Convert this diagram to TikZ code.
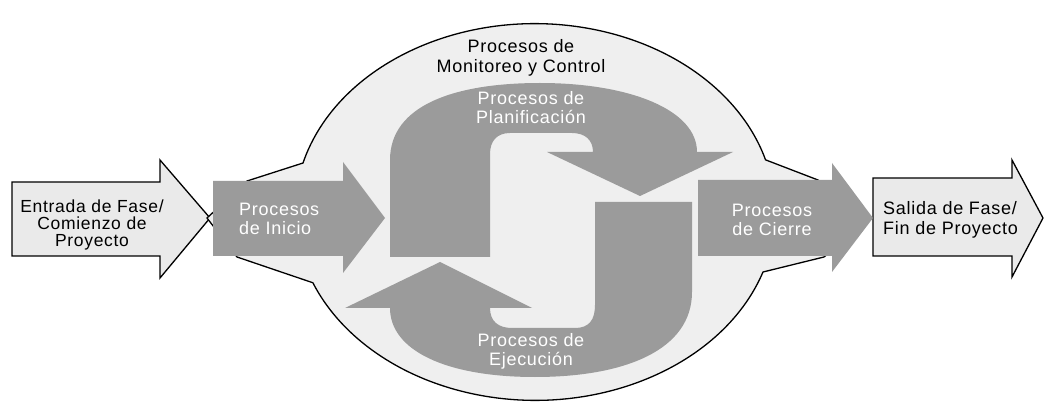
\documentclass[tikz,border=0pt]{standalone}
\usepackage{fontspec}
\setmainfont{Liberation Sans}[LetterSpace=4]
\usetikzlibrary{positioning}

\definecolor{procgray}{HTML}{9B9B9B}
\definecolor{blobgray}{HTML}{EFEFEF}
\definecolor{phasegray}{HTML}{EAEAEA}

\begin{document}
\begin{tikzpicture}
		[x=1pt,y=-1pt,
		phase arrow/.style={draw=black,line width=1.3pt,fill=phasegray,line join=miter},
		proc arrow/.style={fill=procgray,draw=none},
		blob/.style={draw=black,line width=1.3pt,fill=blobgray,line join=miter},
		dark label/.style={font=\fontsize{18}{20}\selectfont,text=black,align=center,inner sep=0pt},
		light label/.style={font=\fontsize{18}{19}\selectfont,text=white,align=center,inner sep=0pt}]
		\useasboundingbox (0,0) rectangle (1045,414);
		
		% entrada y salida de fase
		\draw[phase arrow] (12,182) -- (160,182) -- (160,160) -- (210,218) -- (160,278) -- (160,256) -- (12,256) -- cycle;
		\draw[phase arrow] (873,178) -- (1012,178) -- (1012,160) -- (1043,218) -- (1012,277) -- (1012,256) -- (873,256) -- cycle;
		
		% monitoreo y control
		\draw[blob] (207,218) -- (247,181) -- (303,163)
		arc[start angle=195, end angle=344, x radius=240, y radius=188]
		-- (818,180) -- (872,218) -- (824,257) -- (763,272)
		arc[start angle=18.5, end angle=158, x radius=240, y radius=188]
		-- (237,257) -- cycle;
		
		% inicio y cierre
		\fill[proc arrow] (213,181) -- (343,181) -- (343,162) -- (385,218) -- (343,273) -- (343,256) -- (213,256) -- cycle;
		\fill[proc arrow] (698,180) -- (832,180) -- (832,163) -- (873,218) -- (832,272) -- (832,256) -- (698,256) -- cycle;
		
		% planificacion
		\fill[proc arrow] (390,257) -- (390,160) .. controls (390,105) and (455,83) .. (540,83)
		.. controls (630,83) and (697,110) .. (697,152) -- (733,152) -- (640,196) -- (547,152) -- (593,152)
		.. controls (593,140) and (585,133) .. (572,133) -- (510,133)
		.. controls (497,133) and (490,141) .. (490,154) -- (490,257) -- cycle;
		
		% ejecucion
		\fill[proc arrow] (692,202) -- (692,292) .. controls (692,350) and (625,377) .. (535,377)
		.. controls (445,377) and (390,350) .. (390,308) -- (345,308) -- (440,262) -- (532,308) -- (490,308)
		.. controls (490,321) and (498,328) .. (512,328) -- (575,328)
		.. controls (589,328) and (595,320) .. (595,305) -- (595,202) -- cycle;
		
		\node[dark label,font=\fontsize{17.5}{17}\selectfont] (entrada) at (92,225) {Entrada de Fase/\\Comienzo de\\Proyecto};
		\node[dark label,align=left,anchor=west] (salida) at (883,220) {Salida de Fase/\\Fin de Proyecto};
		\node[dark label] (monitoreo) at (521,58) {Procesos de\\Monitoreo y Control};
		\node[light label,align=left,anchor=west] (inicio) at (239,219) {Procesos\\de Inicio};
		\node[light label] (cierre) at (772,220) {Procesos\\de Cierre};
		\node[light label] (planif) at (531,108) {Procesos de\\Planificación};
		\node[light label] (ejecucion) at (531,351) {Procesos de\\Ejecución};
		\end{tikzpicture}
\end{document}
